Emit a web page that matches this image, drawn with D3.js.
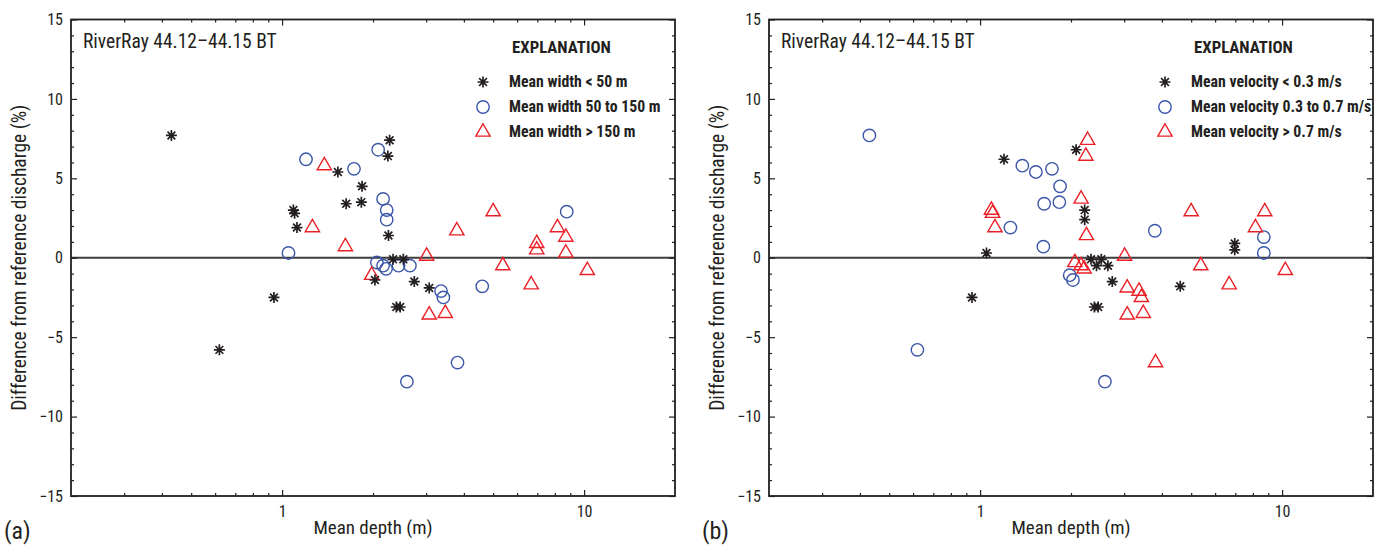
<!DOCTYPE html>
<html>
<head>
<meta charset="utf-8">
<script src="https://cdn.jsdelivr.net/npm/d3@7"></script>
<style>
  body { margin: 0; background: #fff; }
  text { font-family: "Liberation Sans Narrow", "Arial Narrow", "Roboto Condensed", sans-serif; fill: #231f20; }
</style>
</head>
<body>
<svg id="chart" width="1381" height="546"></svg>
<script>
// mean depth (m) and difference from reference discharge (%) for each measurement
var depth = [
  0.43, 0.62, 0.94, 1.09, 1.10, 1.12, 1.53, 1.63, 1.84, 1.83, 2.27, 2.24, 2.25, 2.33, 2.52, 2.03, 2.74, 3.07, 2.39, 2.46,
  1.20, 1.05, 1.73, 2.08, 2.16, 2.22, 2.22, 2.06, 2.16, 2.21, 2.43, 2.65, 3.36, 3.42, 4.60, 8.76, 3.81, 2.59,
  1.38, 1.26, 1.62, 1.98, 3.01, 3.07, 3.47, 3.79, 5.00, 5.38, 6.68, 6.97, 6.97, 8.16, 8.70, 8.70, 10.25
];
var diff = [
  7.7, -5.8, -2.5, 3.0, 2.8, 1.9, 5.4, 3.4, 4.5, 3.5, 7.4, 6.4, 1.4, -0.1, -0.1, -1.4, -1.5, -1.9, -3.1, -3.1,
  6.2, 0.3, 5.6, 6.8, 3.7, 3.0, 2.4, -0.3, -0.5, -0.7, -0.5, -0.5, -2.1, -2.5, -1.8, 2.9, -6.6, -7.8,
  5.8, 1.9, 0.7, -1.1, 0.1, -3.6, -3.5, 1.7, 2.9, -0.5, -1.7, 0.9, 0.5, 1.9, 1.3, 0.3, -0.8
];
// 0 = asterisk, 1 = circle, 2 = triangle
var widthClass = [
  0, 0, 0, 0, 0, 0, 0, 0, 0, 0, 0, 0, 0, 0, 0, 0, 0, 0, 0, 0,
  1, 1, 1, 1, 1, 1, 1, 1, 1, 1, 1, 1, 1, 1, 1, 1, 1, 1,
  2, 2, 2, 2, 2, 2, 2, 2, 2, 2, 2, 2, 2, 2, 2, 2, 2
];
var velocityClass = [
  1, 1, 0, 2, 2, 2, 1, 1, 1, 1, 2, 2, 2, 0, 0, 1, 0, 2, 0, 0,
  0, 0, 1, 0, 2, 0, 0, 2, 2, 2, 0, 0, 2, 2, 0, 2, 2, 1,
  1, 1, 1, 1, 2, 2, 2, 1, 2, 2, 2, 0, 0, 2, 1, 1, 2
];
var widthLabels = ["Mean width < 50 m", "Mean width 50 to 150 m", "Mean width > 150 m"];
var velocityLabels = ["Mean velocity < 0.3 m/s", "Mean velocity 0.3 to 0.7 m/s", "Mean velocity > 0.7 m/s"];
var yMajor = [-15, -10, -5, 0, 5, 10, 15];
var xMajor = [1, 10];
var xMinor = [0.3, 0.4, 0.5, 0.6, 0.7, 0.8, 0.9, 2, 3, 4, 5, 6, 7, 8, 9];

(function () {
  var svg = d3.select("#chart");
  var plotTop = 19.5, plotBottom = 496;
  var colors = ["#231f20", "#3a56a8", "#ec2027"];

  var y = d3.scaleLinear().domain([-15, 15]).range([plotBottom, plotTop]);

  var asterisk = function (r) {
    var d = "";
    for (var i = 0; i < 4; i++) {
      var a = i * Math.PI / 4;
      var dx = r * Math.cos(a), dy = r * Math.sin(a);
      d += "M" + (-dx) + "," + (-dy) + "L" + dx + "," + dy;
    }
    return d;
  };

  var drawSymbol = function (sel, cls) {
    if (cls === 0) {
      sel.append("path").attr("d", asterisk(5.5))
        .attr("stroke", colors[0]).attr("stroke-width", 1.7).attr("fill", "none");
    } else if (cls === 1) {
      sel.append("circle").attr("r", 6.2)
        .attr("stroke", colors[1]).attr("stroke-width", 1.4).attr("fill", "none");
    } else {
      sel.append("path").attr("d", d3.symbol().type(d3.symbolTriangle).size(88)())
        .attr("stroke", colors[2]).attr("stroke-width", 1.4).attr("fill", "none");
    }
  };

  var drawPanel = function (left, right, classes, labels, legendX, letter) {
    var x = d3.scaleLog().domain([0.2, 20]).range([left, right]);
    var g = svg.append("g");

    // zero line
    g.append("line")
      .attr("x1", left).attr("x2", right)
      .attr("y1", y(0)).attr("y2", y(0))
      .attr("stroke", "#3d3d3d").attr("stroke-width", 2);

    // ticks, all pointing inward
    var yMinor = d3.range(-14, 15).filter(function (v) { return v % 5 !== 0; });
    var axes = [
      [d3.axisLeft(y).tickValues(yMinor).tickSize(-3).tickFormat(""), left, 0],
      [d3.axisRight(y).tickValues(yMinor).tickSize(-3).tickFormat(""), right, 0],
      [d3.axisRight(y).tickValues(yMajor).tickSize(-6).tickFormat(""), right, 0],
      [d3.axisBottom(x).tickValues(xMinor).tickSize(-3).tickFormat(""), 0, plotBottom],
      [d3.axisTop(x).tickValues(xMinor).tickSize(-3).tickFormat(""), 0, plotTop],
      [d3.axisTop(x).tickValues(xMajor).tickSize(-6).tickFormat(""), 0, plotTop]
    ];
    axes.forEach(function (a) {
      g.append("g").attr("transform", "translate(" + a[1] + "," + a[2] + ")").call(a[0]);
    });

    var yAxis = g.append("g").attr("transform", "translate(" + left + ",0)")
      .call(d3.axisLeft(y).tickValues(yMajor).tickSize(-6).tickPadding(8));
    yAxis.selectAll("text").attr("font-size", 16);

    var xAxis = g.append("g").attr("transform", "translate(0," + plotBottom + ")")
      .call(d3.axisBottom(x).tickValues(xMajor).tickSize(-6).tickPadding(10).tickFormat(d3.format("d")));
    xAxis.selectAll("text").attr("font-size", 16);

    g.selectAll(".domain").remove();
    g.selectAll(".tick line").attr("stroke", "#231f20").attr("stroke-width", 1.2);
    g.selectAll(".tick text").attr("font-family", null).attr("fill", "#231f20");

    // frame
    g.append("rect")
      .attr("x", left).attr("y", plotTop)
      .attr("width", right - left).attr("height", plotBottom - plotTop)
      .attr("fill", "none").attr("stroke", "#231f20").attr("stroke-width", 1.8);

    // points
    [1, 2, 0].forEach(function (cls) {
      d3.range(depth.length).forEach(function (i) {
        if (classes[i] !== cls) return;
        var p = g.append("g").attr("transform", "translate(" + x(depth[i]) + "," + y(diff[i]) + ")");
        drawSymbol(p, cls);
      });
    });

    g.append("text").attr("x", left + 12).attr("y", 48)
      .attr("font-size", 19.5).text("RiverRay 44.12\u201344.15 BT");

    // legend
    g.append("text").attr("x", legendX + 29).attr("y", 53)
      .attr("font-size", 16.8).attr("font-weight", "bold").text("EXPLANATION");
    labels.forEach(function (label, k) {
      var ly = 82 + k * 25;
      var s = g.append("g").attr("transform", "translate(" + legendX + "," + ly + ")");
      drawSymbol(s, k);
      g.append("text").attr("x", legendX + 26).attr("y", ly + 4.5)
        .attr("font-size", 15.8).attr("font-weight", "bold").text(label);
    });

    g.append("text").attr("x", (left + right) / 2).attr("y", 534)
      .attr("text-anchor", "middle").attr("font-size", 19).text("Mean depth (m)");

    g.append("text")
      .attr("transform", "translate(" + (left - 45) + "," + ((plotTop + plotBottom) / 2) + ") rotate(-90)")
      .attr("text-anchor", "middle").attr("font-size", 19.5)
      .text("Difference from reference discharge (%)");

    g.append("text").attr("x", left - 67).attr("y", 539)
      .attr("font-size", 24).text(letter);
  };

  drawPanel(71, 675, widthClass, widthLabels, 483, "(a)");
  drawPanel(769, 1373, velocityClass, velocityLabels, 1165, "(b)");
}());
</script>
</body>
</html>
